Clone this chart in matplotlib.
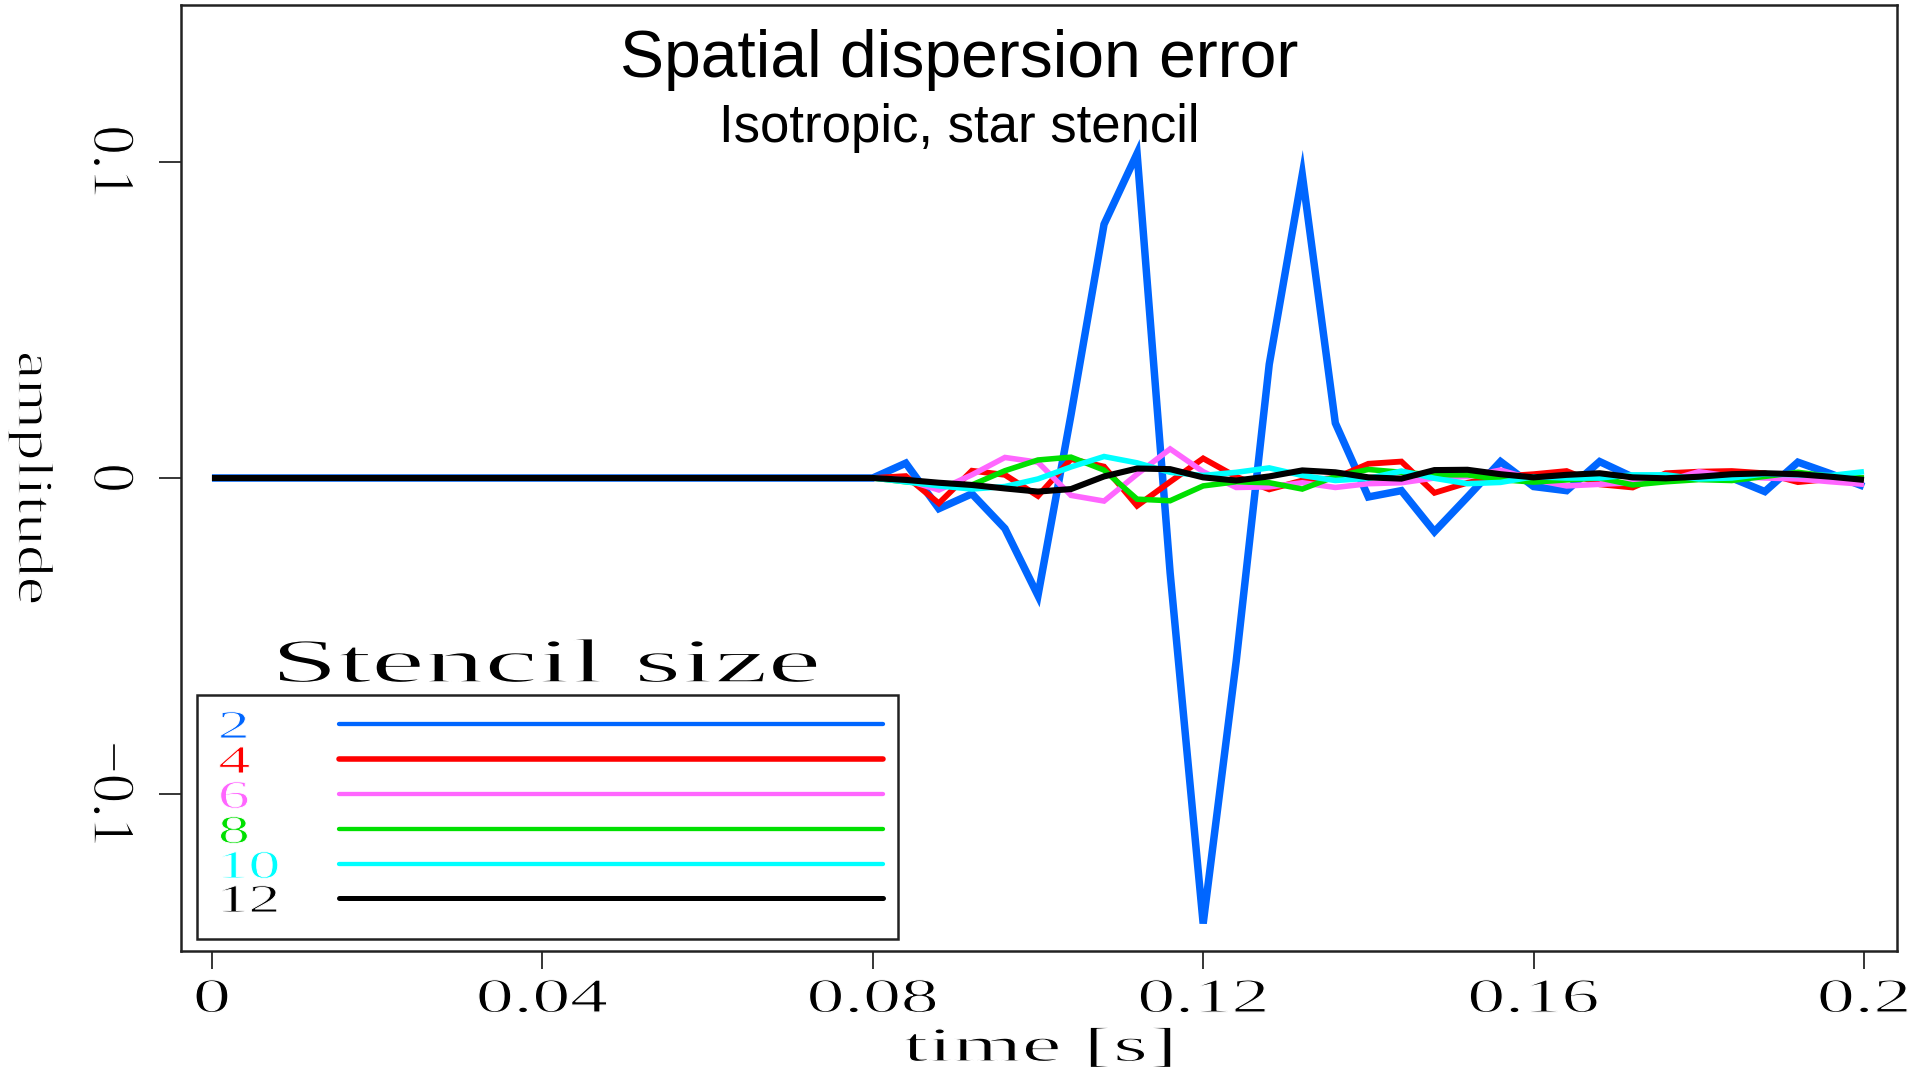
import numpy as np
import matplotlib
matplotlib.use("Agg")
import matplotlib.pyplot as plt
from matplotlib.patheffects import AbstractPathEffect
from matplotlib.transforms import Affine2D
from matplotlib.patches import Rectangle
from matplotlib.lines import Line2D

# ---------------- data ----------------
time_s = [round(0.004 * i, 3) for i in range(51)]          # sample times 0 .. 0.2 s
quiet = [0.0] * 19                                           # 0 .. 0.072 s : no signal

stencil_sizes = ["2", "4", "6", "8", "10", "12"]
colors = ["#0066ff", "#ff0000", "#ff66ff", "#00e000", "#00ffff", "#000000"]

# amplitudes from 0.076 s to 0.200 s (step 0.004 s)
amp_2 = [0.0, 0.0, 0.0047, -0.0097, -0.0050, -0.0160, -0.0372, 0.0200, 0.0803, 0.1027,
         -0.0300, -0.1410, -0.0580, 0.0360, 0.0960, 0.0174, -0.0060, -0.0040, -0.0170, -0.0060,
         0.0052, -0.0027, -0.0040, 0.0052, 0.0003, -0.0002, 0.0002, 0.0, -0.0043, 0.0050,
         0.0013, -0.0027]
amp_4 = [0.0, 0.0, 0.0006, -0.0080, 0.0023, 0.0010, -0.0057, 0.0060, 0.0036, -0.0088,
         -0.0012, 0.0062, 0.0004, -0.0036, -0.0008, 0.0000, 0.0045, 0.0052, -0.0047, -0.0015,
         0.0005, 0.0012, 0.0022, -0.0020, -0.0030, 0.0015, 0.0020, 0.0022, 0.0015, -0.0013,
         -0.0003, 0.0]
amp_6 = [0.0, 0.0, -0.0006, -0.0038, 0.0010, 0.0065, 0.0050, -0.0055, -0.0073, 0.0012,
         0.0092, 0.0020, -0.0030, -0.0028, -0.0015, -0.0030, -0.0018, -0.0015, 0.0000, 0.0005,
         0.0025, -0.0005, -0.0025, -0.0020, -0.0015, -0.0010, 0.0020, 0.0005, 0.0000, -0.0003,
         -0.0012, -0.0020]
amp_8 = [0.0, 0.0, -0.0012, -0.0022, -0.0022, 0.0023, 0.0057, 0.0066, 0.0025, -0.0067,
         -0.0072, -0.0025, -0.0012, -0.0015, -0.0035, 0.0005, 0.0027, 0.0018, 0.0010, 0.0010,
         -0.0005, -0.0013, -0.0006, 0.0000, -0.0022, -0.0012, -0.0005, -0.0008, 0.0005, 0.0018,
         0.0005, 0.0]
amp_10 = [0.0, 0.0, -0.0012, -0.0025, -0.0035, -0.0027, -0.0003, 0.0035, 0.0068, 0.0048,
          0.0018, 0.0008, 0.0018, 0.0032, 0.0008, -0.0008, -0.0001, 0.0022, -0.0001, -0.0018,
          -0.0014, 0.0004, 0.0000, 0.0000, 0.0010, 0.0010, -0.0003, 0.0000, 0.0013, 0.0010,
          0.0008, 0.0020]
amp_12 = [0.0, 0.0, -0.0006, -0.0015, -0.0022, -0.0033, -0.0043, -0.0035, 0.0005, 0.0030,
          0.0028, 0.0002, -0.0008, 0.0005, 0.0024, 0.0018, 0.0002, -0.0002, 0.0025, 0.0026,
          0.0012, 0.0002, 0.0010, 0.0015, 0.0002, -0.0001, 0.0004, 0.0012, 0.0015, 0.0012,
          0.0004, -0.0006]
series = [amp_2, amp_4, amp_6, amp_8, amp_10, amp_12]

xticks = [0, 0.04, 0.08, 0.12, 0.16, 0.2]
xtick_labels = ["0", "0.04", "0.08", "0.12", "0.16", "0.2"]
yticks = [-0.1, 0, 0.1]
ytick_labels = ["\u22120.1", "0", "0.1"]


# ---------------- helpers ----------------
class Stretch(AbstractPathEffect):
    """Stretch glyphs along the text baseline (wide plotter-style lettering),
    and slightly thin the strokes."""
    def __init__(self, sx, anchor="center", erode=0.9):
        super().__init__()
        self.sx = sx
        self.anchor = anchor
        self.erode = erode

    def draw_path(self, renderer, gc, tpath, affine, rgbFace=None):
        ext = tpath.get_extents()
        if self.anchor == "left":
            cx = ext.x0
        else:
            cx = 0.5 * (ext.x0 + ext.x1)
        tr = Affine2D().translate(-cx, 0).scale(self.sx, 1.0).translate(cx, 0) + affine
        renderer.draw_path(gc, tpath, tr, rgbFace)
        if self.erode > 0:
            gc0 = renderer.new_gc()
            gc0.copy_properties(gc)
            gc0.set_foreground("white")
            gc0.set_linewidth(self.erode)
            renderer.draw_path(gc0, tpath, tr, None)
            gc0.restore()


W, H = 1920, 1080
def fx(px):
    return px / W
def fy(py):
    return 1 - py / H

SERIF = "Liberation Serif"
SANS = "Liberation Sans"

fig = plt.figure(figsize=(19.2, 10.8), dpi=100)
ax = fig.add_axes([fx(181), fy(951), fx(1897) - fx(181), fy(5) - fy(951)])

widths = [5.4, 4.2, 4.0, 4.0, 4.0, 4.4]
for vals, col, lw in zip(series, colors, widths):
    ax.plot(time_s, quiet + vals, color=col, lw=lw, solid_joinstyle="miter",
            solid_capstyle="butt")

ax.set_xlim(-0.00375, 0.204)
ax.set_ylim(-0.1497, 0.1497)
for sp in ax.spines.values():
    sp.set_linewidth(1.8)
    sp.set_color("#222222")

ax.set_xticks(xticks)
ax.set_xticklabels(xtick_labels, fontfamily=SERIF, fontsize=35)
ax.set_yticks(yticks)
ax.set_yticklabels(ytick_labels, fontfamily=SERIF, fontsize=43, rotation=-90,
                   va="center")
ax.tick_params(axis="x", direction="out", length=13, width=1.1, pad=6.5, top=False)
ax.tick_params(axis="y", direction="out", length=16, width=1.1, pad=17, right=False)
for lab in ax.get_xticklabels():
    lab.set_path_effects([Stretch(1.55)])
for lab in ax.get_yticklabels():
    lab.set_path_effects([Stretch(0.98)])

ax.set_xlabel("time [s]", fontfamily=SERIF, fontsize=35, va="baseline")
ax.xaxis.set_label_coords(0.5, (951 - 1061) / 946)
ax.xaxis.label.set_path_effects([Stretch(1.83)])
ax.set_ylabel("amplitude", fontfamily=SERIF, fontsize=36, rotation=-90,
              va="center", ha="center")
ax.yaxis.set_label_coords((31 - 181) / 1716, 0.5)
ax.yaxis.label.set_path_effects([Stretch(1.27)])

# titles
fig.text(fx(959), fy(77), "Spatial dispersion error", ha="center", va="baseline",
         fontsize=47.5, fontfamily=SANS)
fig.text(fx(959), fy(142), "Isotropic, star stencil", ha="center", va="baseline",
         fontsize=38, fontfamily=SANS)

# legend (drawn by hand: labels left of samples, title above the box)
fig.add_artist(Rectangle((fx(197), fy(939)), fx(898) - fx(197), fy(695) - fy(939),
                         transform=fig.transFigure, fill=False, edgecolor="#222222",
                         lw=1.8, zorder=5))
fig.text(fx(547), fy(682), "Stencil size", ha="center", va="baseline", fontsize=45,
         fontfamily=SERIF, path_effects=[Stretch(1.92, erode=1.1)])
leg_y = [724, 759, 794, 829, 864, 898]
leg_lw = [3.1, 4.0, 3.1, 3.1, 3.1, 3.6]
for lab, col, yy, lw in zip(stencil_sizes, colors, leg_y, leg_lw):
    fig.add_artist(Line2D([fx(339), fx(883)], [fy(yy), fy(yy)], color=col, lw=lw,
                          transform=fig.transFigure, solid_capstyle="round", zorder=6))
    fig.text(fx(219), fy(yy + 14), lab, ha="left", va="baseline", color=col,
             fontsize=28.5, fontfamily=SERIF,
             path_effects=[Stretch(1.6, anchor="left", erode=0.7)])

fig.savefig("out.png", dpi=100)
